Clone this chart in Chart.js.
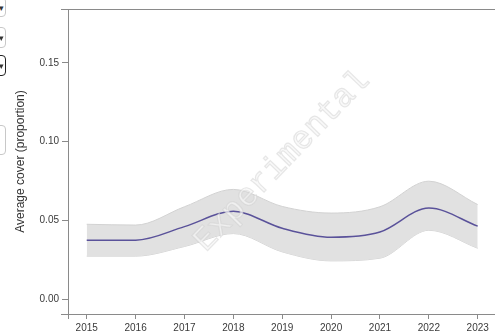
<!DOCTYPE html>
<html><head><meta charset="utf-8">
<script src="https://cdn.jsdelivr.net/npm/chart.js@4/dist/chart.umd.min.js"></script>
<style>
html,body{margin:0;padding:0;background:#fff;overflow:hidden}
#wrap{position:relative;width:495px;height:333px}
canvas{position:absolute;left:0;top:0}
.dd{position:absolute;left:-22px;width:28px;border:1px solid #c8c8c8;border-radius:4px;background:#fff;font:9px "Liberation Sans",Arial,sans-serif;color:#333;text-align:right;box-sizing:border-box;padding-right:1px}
</style></head>
<body><div id="wrap">
<canvas id="c" width="495" height="333"></canvas>
<div class="dd" style="top:-3px;height:20px;line-height:20px">▾</div>
<div class="dd" style="top:27px;height:21px;line-height:21px">▾</div>
<div class="dd" style="top:55px;height:21px;line-height:21px;border:1.5px solid #222">▾</div>
<div class="dd" style="top:125px;height:30px"></div>
</div>
<script>
const years = [2015, 2016, 2017, 2018, 2019, 2020, 2021, 2022, 2023];
const meanCover = [0.0376, 0.0376, 0.0462, 0.0559, 0.0452, 0.0395, 0.0428, 0.0580, 0.0465];
const upperCover = [0.0477, 0.0472, 0.0588, 0.0698, 0.0590, 0.0548, 0.0588, 0.0750, 0.0602];
const lowerCover = [0.0275, 0.0275, 0.0336, 0.0418, 0.0302, 0.0245, 0.0262, 0.0439, 0.0325];
const yTicks = [0, 0.05, 0.10, 0.15];
const yTitle = 'Average cover (proportion)';
const watermark = 'Experimental';

const pts = arr => arr.map((v, i) => ({x: years[i], y: v}));
const font = {family: '"Liberation Sans", Arial, sans-serif', size: 10};

const watermarkPlugin = {
  id: 'wm',
  afterDatasetsDraw(chart) {
    const ctx = chart.ctx;
    ctx.save();
    ctx.translate(282, 161);
    ctx.rotate(-46 * Math.PI / 180);
    ctx.font = '33px "Liberation Mono", "DejaVu Sans Mono", monospace';
    ctx.textAlign = 'center';
    ctx.textBaseline = 'middle';
    ctx.fillStyle = 'rgba(246,246,246,0.7)';
    ctx.fillText(watermark, 0, 0);
    ctx.strokeStyle = 'rgba(205,205,205,0.45)';
    ctx.lineWidth = 1.2;
    ctx.strokeText(watermark, 0, 0);
    ctx.restore();
  },
  afterDraw(chart) {
    const ctx = chart.ctx, a = chart.chartArea;
    ctx.save();
    ctx.strokeStyle = '#8a8a8a';
    ctx.lineWidth = 1;
    ctx.beginPath();
    ctx.moveTo(61, a.top + 0.5); ctx.lineTo(495, a.top + 0.5);
    ctx.moveTo(61, a.bottom + 0.5); ctx.lineTo(495, a.bottom + 0.5);
    ctx.moveTo(a.left + 0.5, a.top); ctx.lineTo(a.left + 0.5, a.bottom + 5);
    ctx.stroke();
    ctx.restore();
  }
};

new Chart(document.getElementById('c'), {
  type: 'line',
  data: {
    datasets: [
      {data: pts(upperCover), borderColor: '#d2d2d2', borderWidth: 1, backgroundColor: '#e1e1e1', fill: '+1', pointRadius: 0, cubicInterpolationMode: 'monotone', order: 2},
      {data: pts(lowerCover), borderColor: '#d2d2d2', borderWidth: 1, backgroundColor: '#e1e1e1', fill: false, pointRadius: 0, cubicInterpolationMode: 'monotone', order: 2},
      {data: pts(meanCover), borderColor: '#5a529a', borderWidth: 1.5, fill: false, pointRadius: 0, cubicInterpolationMode: 'monotone', order: 1}
    ]
  },
  options: {
    responsive: false, animation: false, devicePixelRatio: 1,
    layout: {padding: {top: 8, right: 0, left: 0, bottom: 0}},
    plugins: {legend: {display: false}, tooltip: {enabled: false}},
    scales: {
      x: {
        type: 'linear', min: 2014.617, max: 2023.354,
        afterBuildTicks: s => { s.ticks = years.map(v => ({value: v})); },
        afterFit: s => { s.height = 19; },
        ticks: {font, color: '#3a3a3a', padding: 3, callback: v => String(v), maxRotation: 0, autoSkip: false},
        grid: {drawOnChartArea: false, drawTicks: true, tickLength: 5, color: '#8a8a8a'},
        border: {display: false}
      },
      y: {
        min: -0.00916, max: 0.1841,
        afterBuildTicks: s => { s.ticks = yTicks.map(v => ({value: v})); },
        afterFit: s => { s.width = 68; },
        ticks: {font, color: '#3a3a3a', padding: 3, callback: v => v.toFixed(2)},
        grid: {drawOnChartArea: false, drawTicks: true, tickLength: 6, color: '#8a8a8a'},
        border: {display: false},
        title: {display: true, text: yTitle, color: '#333', font: {family: '"Liberation Sans", Arial, sans-serif', size: 12}, padding: {top: 13, bottom: 0}}
      }
    }
  },
  plugins: [watermarkPlugin]
});
</script>
</body></html>
